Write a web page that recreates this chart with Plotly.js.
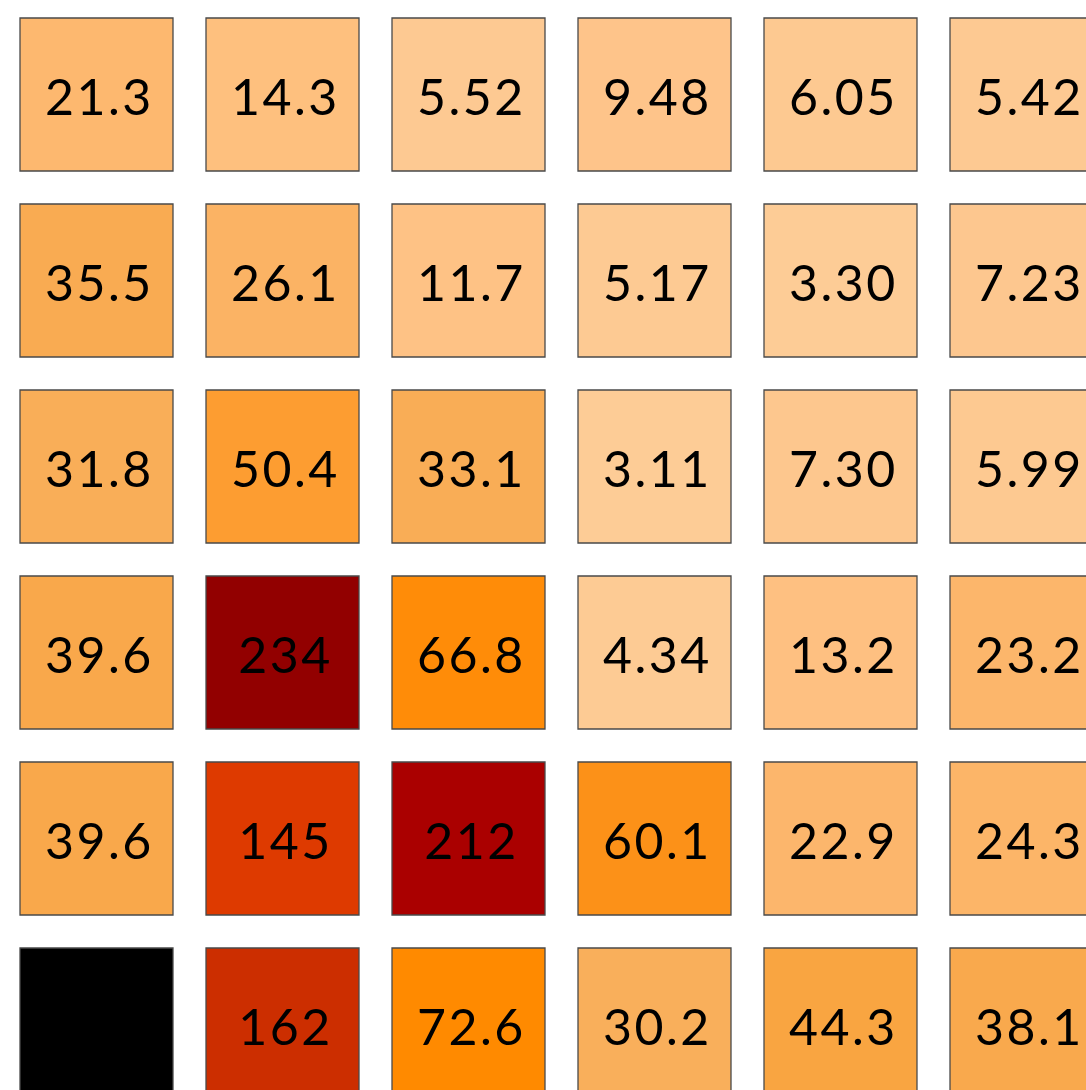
<!DOCTYPE html>
<html>
<head>
<meta charset="utf-8">
<script src="https://cdn.plot.ly/plotly-3.0.1.min.js"></script>
<style>
html,body{margin:0;padding:0;background:#fff;}
#chart{width:1086px;height:1090px;}
#chart .annotation-text{letter-spacing:2.5px;}
</style>
</head>
<body>
<div id="chart"></div>
<script>
// Grid values, rows from top to bottom, columns left to right (null = missing, drawn black)
const columns = [0, 1, 2, 3, 4, 5];
const rows = [0, 1, 2, 3, 4, 5];
const row0 = [21.3, 14.3, 5.52, 9.48, 6.05, 5.42];
const row1 = [35.5, 26.1, 11.7, 5.17, 3.30, 7.23];
const row2 = [31.8, 50.4, 33.1, 3.11, 7.30, 5.99];
const row3 = [39.6, 234, 66.8, 4.34, 13.2, 23.2];
const row4 = [39.6, 145, 212, 60.1, 22.9, 24.3];
const row5 = [null, 162, 72.6, 30.2, 44.3, 38.1];
const values = [row0, row1, row2, row3, row4, row5];

const cmin = 0, cmax = 250;
const colorStops = [
  [0, '#FDD09C'], [5, '#FDCA93'], [10, '#FEC389'], [15, '#FEBF7C'],
  [21, '#FDB870'], [30, '#F9AF5B'], [40, '#F9A84A'], [45, '#F9A440'],
  [50, '#FD9E32'], [60, '#FC9118'], [67, '#FF8C08'], [72.6, '#FF8A00'],
  [145, '#DE3A00'], [162, '#CC2E00'], [212, '#AA0000'], [234, '#920000'],
  [250, '#600000']
];
const colorscale = colorStops.map(s => [(s[0] - cmin) / (cmax - cmin), s[1]]);

const xs = [], ys = [], cs = [], ts = [];
const mx = [], my = [];
rows.forEach((r, i) => {
  columns.forEach((c, j) => {
    const v = values[i][j];
    if (v === null) { mx.push(c); my.push(r); return; }
    xs.push(c); ys.push(r); cs.push(v); ts.push(Number(v).toPrecision(3));
  });
});

const cellSize = 153;
const border = {color: '#4a4a4a', width: 1.3};
const traces = [
  {
    type: 'scatter', mode: 'markers', x: xs, y: ys, text: ts,
    marker: {symbol: 'square', size: cellSize, color: cs, cmin: cmin, cmax: cmax,
             colorscale: colorscale, showscale: false, line: border},
    hoverinfo: 'text', cliponaxis: true
  },
  {
    type: 'scatter', mode: 'markers', x: mx, y: my,
    marker: {symbol: 'square', size: cellSize, color: '#000000', line: border},
    hoverinfo: 'skip', cliponaxis: true
  }
];

const annotations = xs.map((x, k) => ({
  x: x, y: ys[k], xref: 'x', yref: 'y', text: ts[k], showarrow: false,
  yshift: -1, xshift: 2.5,
  font: {family: 'Lato, "Open Sans", sans-serif', size: 50, color: '#000000'}
}));

const pitch = 186;
const x0 = -96.5 / pitch, y0 = -94.5 / pitch;
const layout = {
  width: 1086, height: 1090,
  margin: {l: 0, r: 0, t: 0, b: 0, pad: 0},
  paper_bgcolor: '#ffffff', plot_bgcolor: '#ffffff',
  showlegend: false,
  annotations: annotations,
  xaxis: {range: [x0, x0 + 1086 / pitch], visible: false, fixedrange: true},
  yaxis: {range: [y0 + 1090 / pitch, y0], visible: false, fixedrange: true}
};
Plotly.newPlot('chart', traces, layout, {displayModeBar: false, staticPlot: true});
</script>
</body>
</html>
